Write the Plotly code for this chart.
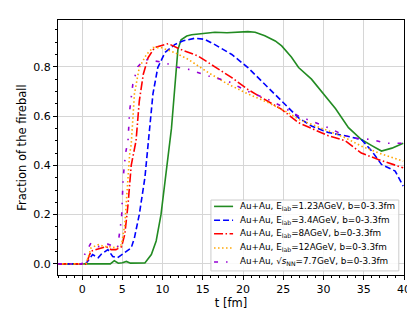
import plotly.graph_objects as go

# ---- data ----
t_green = [-3, 0, 3.5, 4.0, 4.5, 5.0, 5.5, 6.0, 7.8, 8.6, 9.2, 9.8, 10.5, 11.1, 11.5, 11.9, 12.3, 13.0, 13.6, 15, 16.5, 18, 19, 20.6, 21.5, 22.7, 24, 24.8, 26, 26.9, 28.5, 29.8, 31.5, 33.1, 34.7, 36, 37.2, 38.5, 39.9]
f_green = [0, 0, 0, 0.013, 0.003, 0.005, 0.01, 0.003, 0.004, 0.038, 0.093, 0.2, 0.377, 0.55, 0.71, 0.87, 0.91, 0.925, 0.93, 0.935, 0.94, 0.938, 0.94, 0.943, 0.94, 0.926, 0.905, 0.885, 0.84, 0.797, 0.75, 0.70, 0.63, 0.553, 0.505, 0.48, 0.458, 0.47, 0.49]

t_blue = [-3, 0.4, 0.7, 1.3, 2.0, 2.4, 3.2, 3.8, 4.4, 5.3, 6.1, 6.5, 7.1, 7.8, 8.2, 8.8, 9.4, 10.3, 11.5, 12.5, 14.0, 15.2, 16.5, 18.6, 20.6, 22.7, 24.8, 26.9, 28.5, 30.6, 32.7, 34.7, 36.0, 37.2, 38.9, 39.9]
f_blue = [0, 0, 0.011, 0.038, 0.025, 0.04, 0.058, 0.03, 0.025, 0.045, 0.065, 0.106, 0.2, 0.35, 0.485, 0.69, 0.797, 0.858, 0.89, 0.905, 0.916, 0.912, 0.89, 0.85, 0.797, 0.73, 0.66, 0.593, 0.56, 0.533, 0.52, 0.505, 0.458, 0.404, 0.377, 0.316]

t_red = [-3, 0.5, 1.1, 1.7, 2.4, 3.0, 3.6, 4.2, 4.9, 5.3, 5.7, 6.1, 6.7, 7.1, 7.6, 8.2, 9.0, 10.3, 10.7, 12.3, 14.4, 16.5, 18.6, 20.6, 22.7, 24.8, 26.9, 28.5, 30.6, 32.7, 34.7, 36.8, 38.5, 39.9]
f_red = [0, 0, 0.052, 0.058, 0.065, 0.07, 0.058, 0.058, 0.07, 0.12, 0.24, 0.40, 0.50, 0.66, 0.77, 0.837, 0.878, 0.892, 0.894, 0.87, 0.844, 0.80, 0.756, 0.708, 0.668, 0.627, 0.573, 0.55, 0.52, 0.50, 0.45, 0.424, 0.404, 0.39]

t_orange = [-3, 0.5, 1.1, 2.0, 2.8, 3.4, 4.2, 4.9, 5.3, 5.6, 5.9, 6.1, 6.5, 7.1, 8.0, 8.8, 9.8, 11.5, 13.2, 15.7, 18.1, 20.6, 23.1, 25.6, 26.9, 30.6, 32.7, 34.7, 36.8, 39.9]
f_orange = [0, 0, 0.065, 0.078, 0.07, 0.07, 0.065, 0.078, 0.16, 0.31, 0.444, 0.485, 0.69, 0.797, 0.85, 0.878, 0.878, 0.858, 0.83, 0.776, 0.73, 0.69, 0.655, 0.614, 0.587, 0.54, 0.512, 0.478, 0.451, 0.417]

t_purple = [-3, 0, 0.1, 1.1, 2.0, 3.2, 4.4, 4.9, 5.1, 5.4, 5.7, 5.9, 6.3, 6.9, 7.8, 9.0, 10.3, 11.5, 13.2, 15.7, 18.1, 20.6, 23.1, 24.8, 26.9, 30.6, 32.7, 34.0, 36.0, 37.7, 39.9]
f_purple = [0, 0, 0.025, 0.085, 0.07, 0.08, 0.065, 0.187, 0.35, 0.45, 0.5, 0.62, 0.73, 0.80, 0.83, 0.824, 0.817, 0.80, 0.79, 0.763, 0.742, 0.70, 0.668, 0.64, 0.60, 0.553, 0.52, 0.51, 0.505, 0.49, 0.49]

labels = [
    "Au+Au, E<sub>lab</sub>=1.23AGeV, b=0-3.3fm",
    "Au+Au, E<sub>lab</sub>=3.4AGeV, b=0-3.3fm",
    "Au+Au, E<sub>lab</sub>=8AGeV, b=0-3.3fm",
    "Au+Au, E<sub>lab</sub>=12AGeV, b=0-3.3fm",
    "Au+Au, √<i>s</i><sub>NN</sub>=7.7GeV, b=0-3.3fm",
]
x_ticks = [0, 5, 10, 15, 20, 25, 30, 35, 40]
y_ticks = [0.0, 0.2, 0.4, 0.6, 0.8]

colors = ["#228B22", "#0000ff", "#ff0000", "#ffa500", "#9400d3"]
dashes = ["solid", "6px,3px", "9px,2.5px,1.5px,2.5px", "1.5px,2.5px", "4px,8px,1.5px,8px"]
series = [(t_green, f_green), (t_blue, f_blue), (t_red, f_red), (t_orange, f_orange), (t_purple, f_purple)]

fig = go.Figure()
for (tx, fy), col, dash, lab in zip(series, colors, dashes, labels):
    fig.add_trace(go.Scatter(x=tx, y=fy, mode="lines", name=lab, showlegend=False,
                             line=dict(color=col, width=1.6, dash=dash)))

# ---- compact legend (box, sample lines, texts) in paper coordinates ----
shapes = [dict(type="rect", xref="paper", yref="paper", x0=0.442, x1=0.985, y0=0.016, y1=0.294,
               line=dict(color="#cccccc", width=1), fillcolor="rgba(255,255,255,0.85)", layer="above")]
annotations = []
row_y = [0.269, 0.2145, 0.162, 0.106, 0.051]
for ry, col, dash, lab in zip(row_y, colors, dashes, labels):
    shapes.append(dict(type="line", xref="paper", yref="paper", x0=0.451, x1=0.506, y0=ry, y1=ry,
                       line=dict(color=col, width=1.6, dash=dash), layer="above"))
    annotations.append(dict(xref="paper", yref="paper", x=0.52, y=ry, xanchor="left", yanchor="middle",
                            text=lab, showarrow=False,
                            font=dict(family="DejaVu Sans", size=8.8, color="black")))

axis_common = dict(showline=True, linecolor="black", linewidth=1, mirror=True,
                   ticks="outside", ticklen=4, tickcolor="black",
                   showgrid=True, gridcolor="#d6d6d6", gridwidth=1, zeroline=False,
                   tickfont=dict(family="DejaVu Sans", size=11, color="black"))

fig.update_xaxes(range=[-3, 40], tickvals=x_ticks,
                 title=dict(text="t [fm]", font=dict(family="DejaVu Sans", size=11.5, color="black"), standoff=2),
                 minor=dict(dtick=1, ticks="outside", ticklen=2, tickcolor="black", showgrid=False), **axis_common)
fig.update_yaxes(range=[-0.045, 0.99], tickvals=y_ticks, ticktext=["0.0", "0.2", "0.4", "0.6", "0.8"],
                 title=dict(text="Fraction of the fireball", font=dict(family="DejaVu Sans", size=11.5, color="black"), standoff=4),
                 minor=dict(dtick=0.05, tick0=0, ticks="outside", ticklen=2, tickcolor="black", showgrid=False), **axis_common)

fig.update_layout(
    width=415, height=312,
    margin=dict(l=50, r=19, t=12, b=45),
    plot_bgcolor="white", paper_bgcolor="white",
    font=dict(family="DejaVu Sans", color="black"),
    showlegend=False,
    shapes=shapes, annotations=annotations,
)

fig.write_html("out.html")
